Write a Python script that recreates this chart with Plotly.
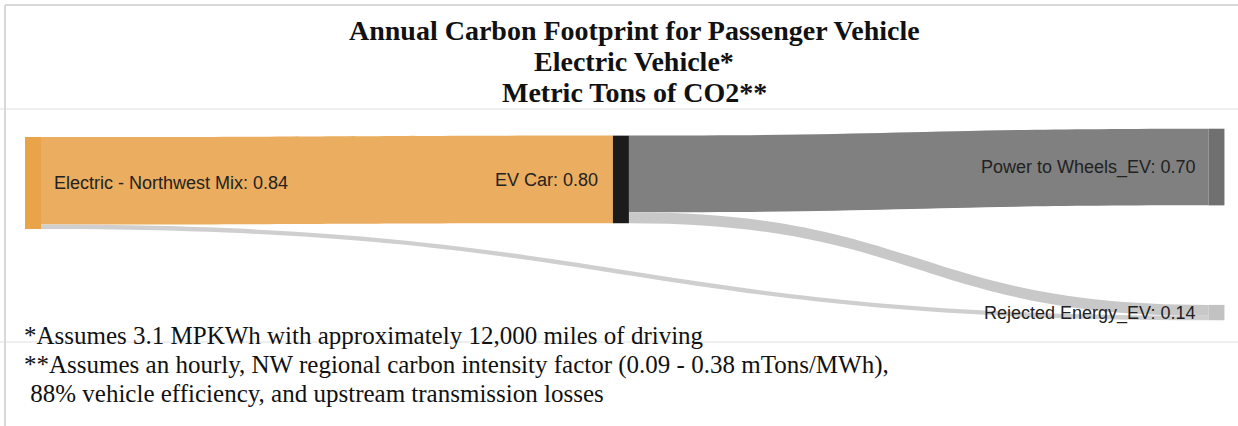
import plotly.graph_objects as go

# nodes and flows (metric tons CO2 per year)
node_names = ["Electric - Northwest Mix", "EV Car", "Power to Wheels_EV", "Rejected Energy_EV"]
node_colors = ["#e9a449", "#1b1b1b", "#707070", "#c2c2c2"]
link_source = [0, 0, 1, 1]
link_target = [1, 3, 2, 3]
link_value = [0.80, 0.04, 0.70, 0.10]
link_colors = ["#ebad5f", "#cfcfcf", "#808080", "#c8c8c8"]

title_lines = ["Annual Carbon Footprint for Passenger Vehicle", "Electric Vehicle*", "Metric Tons of CO2**"]
footnotes = [
    "*Assumes 3.1 MPKWh with approximately 12,000 miles of driving",
    "**Assumes an hourly, NW regional carbon intensity factor (0.09 - 0.38 mTons/MWh),",
    "\u00a088% vehicle efficiency, and upstream transmission losses",
]

# node totals -> labels "Name: value"
totals = []
for i in range(len(node_names)):
    out_v = sum(v for s, v in zip(link_source, link_value) if s == i)
    in_v = sum(v for t, v in zip(link_target, link_value) if t == i)
    totals.append(max(out_v, in_v))
texts = [f"{n}: {v:.2f}" for n, v in zip(node_names, totals)]
pad = "\u00a0\u00a0"
# middle node label sits left of its node, so it is drawn as an annotation
labels = [pad + texts[0], "", texts[2] + pad, texts[3] + pad]

W, H = 1238, 426
top_px, bot_px = 120, 330
label_font = dict(family="Liberation Sans, Arial", size=18, color="#222222")

fig = go.Figure(go.Sankey(
    arrangement="fixed",
    domain=dict(x=[25 / W, 1224 / W], y=[1 - bot_px / H, 1 - top_px / H]),
    node=dict(
        label=labels,
        color=node_colors,
        thickness=16,
        pad=118,
        line=dict(width=0),
        x=[0.0067, 0.497, 0.9937, 0.9937],
        y=[0.30, 0.283, 0.224, 0.917],
    ),
    link=dict(source=link_source, target=link_target, value=link_value, color=link_colors),
    textfont=dict(**label_font, shadow="none"),
))

serif = "Liberation Serif, Times New Roman, serif"
ann = [dict(text=texts[1], xref="paper", yref="paper", x=600 / W, y=1 - 180 / H,
            xanchor="right", yanchor="middle", showarrow=False, font=label_font)]
for txt, yc in zip(title_lines, [30, 62, 93]):
    ann.append(dict(text=f"<b>{txt}</b>", xref="paper", yref="paper", x=634 / W, y=1 - yc / H,
                    xanchor="center", yanchor="middle", showarrow=False,
                    font=dict(family=serif, size=28, color="#111111")))
for txt, yc in zip(footnotes, [335, 365, 393]):
    ann.append(dict(text=txt, xref="paper", yref="paper", x=22 / W, y=1 - yc / H,
                    xanchor="left", yanchor="middle", showarrow=False,
                    font=dict(family=serif, size=25, color="#111111")))

fig.update_layout(
    width=W, height=H,
    margin=dict(l=0, r=0, t=0, b=0),
    paper_bgcolor="white",
    annotations=ann,
    shapes=[
        dict(type="line", xref="paper", yref="paper", x0=0, x1=1, y0=1 - 109 / H, y1=1 - 109 / H,
             line=dict(color="#dedede", width=1)),
        dict(type="line", xref="paper", yref="paper", x0=0, x1=1, y0=1 - 342 / H, y1=1 - 342 / H,
             line=dict(color="#dedede", width=1)),
        dict(type="line", xref="paper", yref="paper", x0=5 / W, x1=5 / W, y0=0, y1=1 - 5 / H,
             line=dict(color="#d8d8d8", width=2)),
        dict(type="line", xref="paper", yref="paper", x0=5 / W, x1=1, y0=1 - 5 / H, y1=1 - 5 / H,
             line=dict(color="#d8d8d8", width=2)),
    ],
)

fig.write_html("out.html", config={"displayModeBar": False},
               post_script="document.body.style.margin='0';")
